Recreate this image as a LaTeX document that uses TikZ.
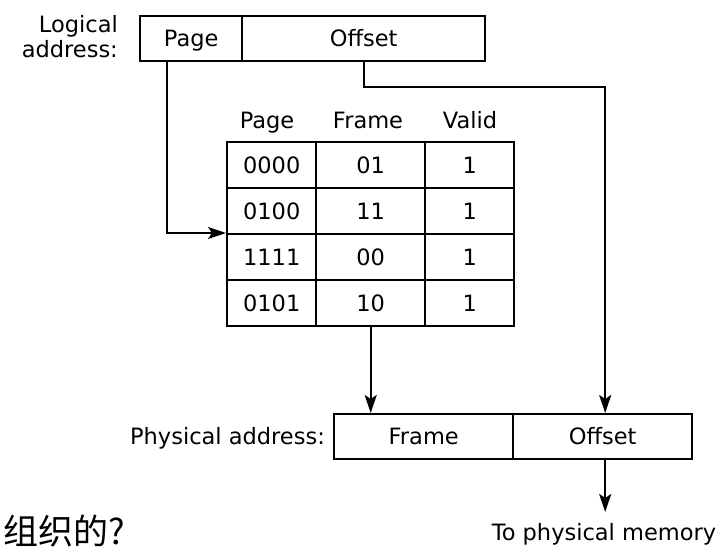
\documentclass[tikz,border=0pt]{standalone}
\usepackage{fontspec}
\setmainfont{DejaVu Sans}
\newfontfamily\cjk{Noto Sans CJK SC}
\usetikzlibrary{arrows.meta,calc}
\begin{document}
\begin{tikzpicture}[x=1pt,y=-1pt,
  txt/.style={font=\fontsize{22.5}{25}\selectfont},
  cell/.style={txt,draw,line width=2.4pt,inner sep=0pt,anchor=north west,
               text height=16.4pt,text depth=0pt},
  lbl/.style={txt,inner sep=0pt},
  arr/.style={line width=2.2pt,-{Stealth[length=18pt,width=12pt,inset=4pt]}}]
\useasboundingbox[fill=white] (0,0) rectangle (723,548);

% logical address
\node[cell,minimum width=102pt,minimum height=45pt] (lp) at (139,15) {Page};
\node[cell,minimum width=243pt,minimum height=45pt] (lo) at (241,15) {Offset};
\node[lbl,align=right,anchor=east] (llab) at (118,37) {Logical\\address:};

% page table
\foreach \a/\b/\c [count=\i] in {0000/01/1,0100/11/1,1111/00/1,0101/10/1}{
  \node[cell,minimum width=89pt,minimum height=46pt] (p\i) at (226,{141+46*(\i-1)}) {\a};
  \node[cell,minimum width=109pt,minimum height=46pt] (f\i) at (315,{141+46*(\i-1)}) {\b};
  \node[cell,minimum width=89pt,minimum height=46pt] (v\i) at (424,{141+46*(\i-1)}) {\c};
}
\node[lbl,anchor=base] (hp) at (267,129) {Page};
\node[lbl,anchor=base] (hf) at (368,129) {Frame};
\node[lbl,anchor=base] (hv) at (470,129) {Valid};

% physical address
\node[cell,minimum width=179pt,minimum height=45pt] (pf) at (333,413) {Frame};
\node[cell,minimum width=179pt,minimum height=45pt] (po) at (512,413) {Offset};
\node[lbl,anchor=base east] (plab) at (325,444) {Physical address:};

\node[lbl,anchor=base] (mem) at (604,540) {To physical memory};

\node[inner sep=0pt,anchor=base west,font=\cjk\fontsize{35}{40}\selectfont] (cn) at (3,544) {组织的?};

% connectors
\draw[arr] ([xshift=-24pt]lp.south) |- (p3.north west);
\draw[arr] (lo.south) -- ++(0,25) -| ([xshift=2.5pt]po.north);
\draw[arr] (f4.south) -- (f4.south |- pf.north);
\draw[arr] ([xshift=2.5pt]po.south) -- ([xshift=2.5pt]po.south |- 0,512);
\end{tikzpicture}
\end{document}
